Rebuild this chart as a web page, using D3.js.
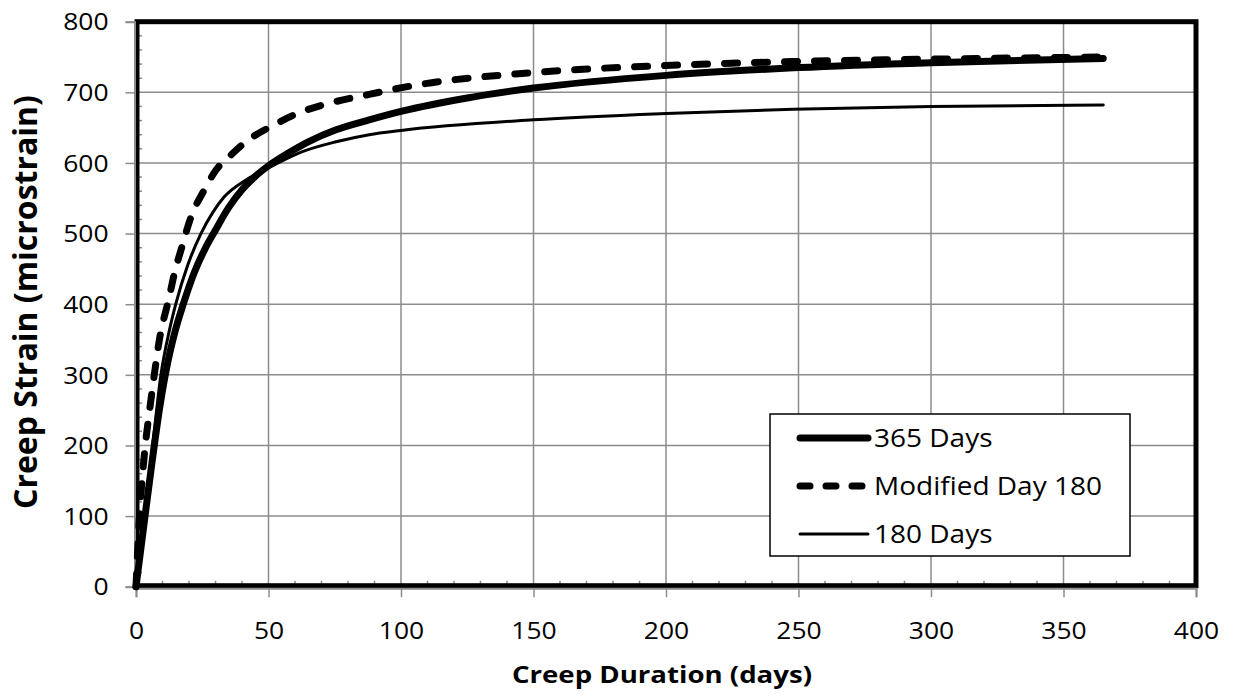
<!DOCTYPE html>
<html><head><meta charset="utf-8">
<script src="https://cdn.jsdelivr.net/npm/d3@7"></script>
<style>body{margin:0;background:#fff}text{font-family:"Open Sans","Liberation Sans",sans-serif}</style>
</head><body>
<svg id="c" width="1233" height="696"></svg>
<script>
const xTicks = [0,50,100,150,200,250,300,350,400];
const yTicks = [0,100,200,300,400,500,600,700,800];
const seriesNames = ["365 Days","Modified Day 180","180 Days"];
// [day, microstrain]
const days365 = [[0,0],[3,88],[6,175],[9,255],[12,318],[15,365],[18,402],[22,445],[26,478],[30,505],[35,537],[40,562],[45,581],[50,596],[57,613],[65,630],[75.5,647],[88,661],[100,673],[125,692],[150,706],[200,724],[250,735],[300,742],[365,748]];
const modified180 = [[0,0],[1.3,100],[2.3,151],[3.5,200],[5,246],[6.9,300],[8.8,349],[12.6,411],[14.5,444],[17,477],[20.8,524],[25.8,562],[30.2,590],[35.2,609],[41.5,630],[51.6,653],[62.9,673],[75.5,687],[88,697],[98,705],[107,711],[150,728],[200,738],[248,743.5],[300,747],[365,750]];
const days180 = [[0,0],[3.1,100],[6.3,200],[9.4,300],[12.6,363],[15,400],[19.5,455],[24.5,500],[29,530],[33.3,552],[41.5,576],[50,593],[62.8,616],[75.5,630],[88,640],[100,646],[150,661],[200,670],[248,676],[300,680],[365,682]];

const svg = d3.select("#c");
const L=136, R=1196, T=21.7, B=586.7;
const x = d3.scaleLinear().domain([0,400]).range([L,R]);
const y = d3.scaleLinear().domain([0,800]).range([B,T]);
const grid="#8c8c8c";

// gridlines
svg.append("g").selectAll("line").data(xTicks.slice(1,-1)).join("line")
  .attr("x1",d=>x(d)).attr("x2",d=>x(d)).attr("y1",T).attr("y2",B)
  .attr("stroke",grid).attr("stroke-width",1.5);
svg.append("g").selectAll("line").data(yTicks.slice(1,-1)).join("line")
  .attr("y1",d=>y(d)).attr("y2",d=>y(d)).attr("x1",L).attr("x2",R)
  .attr("stroke",grid).attr("stroke-width",1.5);

// minor ticks (inward)
const xMinor = d3.range(0,401,10).filter(v=>v%50!==0);
const yMinor = d3.range(0,801,20).filter(v=>v%100!==0);
svg.append("g").selectAll("line").data(xMinor).join("line")
  .attr("x1",d=>x(d)).attr("x2",d=>x(d)).attr("y1",B).attr("y2",B-6)
  .attr("stroke",grid).attr("stroke-width",1.5);
svg.append("g").selectAll("line").data(yMinor).join("line")
  .attr("y1",d=>y(d)).attr("y2",d=>y(d)).attr("x1",L).attr("x2",L+6)
  .attr("stroke",grid).attr("stroke-width",1.5);

// frame
svg.append("rect").attr("x",L+1).attr("y",T).attr("width",R-L-1).attr("height",B-T-1)
  .attr("fill","none").attr("stroke","#000").attr("stroke-width",5);

// axes
const xAxis = d3.axisBottom(x).tickValues(xTicks).tickSize(9).tickPadding(10);
const gx = svg.append("g").attr("transform",`translate(0,${B+1.5})`).call(xAxis);
const yAxis = d3.axisLeft(y).tickValues(yTicks).tickSize(9).tickPadding(12);
const gy = svg.append("g").attr("transform",`translate(${L-1.5},0)`).call(yAxis);
[gx,gy].forEach(g=>{
  g.select(".domain").attr("stroke",grid).attr("stroke-width",2);
  g.selectAll(".tick line").attr("stroke",grid).attr("stroke-width",1.5);
  g.selectAll(".tick text").attr("fill","#000").style("font-size","23px");
});
gx.selectAll(".tick text").attr("y",0).attr("dy",null).attr("transform","translate(0,51) scale(1.15,1)");
gy.selectAll(".tick text").attr("x",0).attr("dy","0.36em").attr("transform","translate(-26,0) scale(1.15,1)");

// lines
const line = d3.line().x(d=>x(d[0])).y(d=>y(d[1])).curve(d3.curveMonotoneX);
svg.append("path").datum(days180).attr("d",line).attr("fill","none")
  .attr("stroke","#000").attr("stroke-width",3).attr("stroke-linecap","round");
svg.append("path").datum(days365).attr("d",line).attr("fill","none")
  .attr("stroke","#000").attr("stroke-width",7).attr("stroke-linecap","round");
svg.append("path").datum(modified180).attr("d",line).attr("fill","none")
  .attr("stroke","#000").attr("stroke-width",7).attr("stroke-linecap","round")
  .attr("stroke-dasharray","13,17");

// legend
const lg = svg.append("g");
lg.append("rect").attr("x",770).attr("y",414).attr("width",360).attr("height",142)
  .attr("fill","#fff").attr("stroke","#000").attr("stroke-width",1.5);
const styles=[{w:7,dash:null},{w:7,dash:"10,16"},{w:3,dash:null}];
seriesNames.forEach((n,i)=>{
  const yy=438+i*48;
  lg.append("line").attr("x1",800).attr("x2",868).attr("y1",yy).attr("y2",yy)
    .attr("stroke","#000").attr("stroke-width",styles[i].w).attr("stroke-linecap","round")
    .attr("stroke-dasharray",styles[i].dash);
  lg.append("text").attr("transform",`translate(874,${yy}) scale(1.12,1)`).attr("dy","0.36em")
    .style("font-size","25px").text(n);
});

// axis titles
svg.append("text").attr("transform","translate(662,683) scale(1.2,1)").attr("text-anchor","middle")
  .style("font-size","23px").style("font-weight","bold").text("Creep Duration (days)");
svg.append("text").attr("transform","translate(37,302) rotate(-90)").attr("text-anchor","middle")
  .style("font-size","32px").style("font-weight","bold").text("Creep Strain (microstrain)");
</script></body></html>
